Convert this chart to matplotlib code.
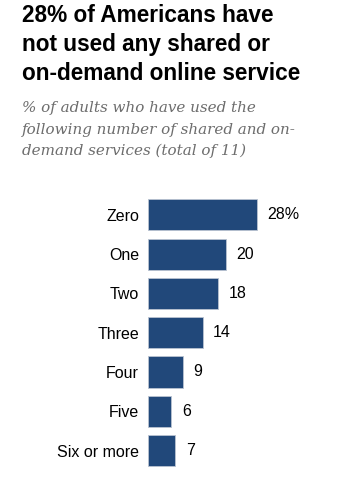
import matplotlib
matplotlib.use("Agg")
import matplotlib.pyplot as plt

categories = ["Zero", "One", "Two", "Three", "Four", "Five", "Six or more"]
values = [28, 20, 18, 14, 9, 6, 7]
value_labels = ["28%", "20", "18", "14", "9", "6", "7"]

title_lines = ["28% of Americans have",
               "not used any shared or",
               "on-demand online service"]
subtitle_lines = ["% of adults who have used the",
                  "following number of shared and on-",
                  "demand services (total of 11)"]

W, H = 349, 494
fig = plt.figure(figsize=(W / 100, H / 100), dpi=100)
fig.patch.set_facecolor("white")

for i, line in enumerate(title_lines):
    fig.text(22 / W, 1 - (21.5 + 29.3 * i) / H, line, ha="left", va="baseline",
             fontsize=16.3, fontweight="bold", family="Liberation Sans",
             color="#000000")
for i, line in enumerate(subtitle_lines):
    fig.text(22 / W, 1 - (112 + 21.5 * i) / H, line, ha="left", va="baseline",
             fontsize=10.9, style="italic", family="DejaVu Serif", color="#6d6d6d")

ax_left = 148 / W
ax_bottom = 1 - 470.2 / H
ax_h = 275 / H
xmax = 50
ax_w = (xmax * 109 / 28) / W
ax = fig.add_axes([ax_left, ax_bottom, ax_w, ax_h])
ypos = list(range(len(categories)))
ax.barh(ypos, values, height=0.79, color="#21487a", edgecolor="#b9c3d1", linewidth=0.6)
ax.set_ylim(len(categories) - 0.5, -0.5)
ax.set_xlim(0, xmax)
ax.set_yticks(ypos)
ax.set_yticklabels(categories, family="Liberation Sans", fontsize=11.5, color="#000000")
ax.tick_params(axis="y", length=0, pad=6.5)
ax.set_xticks([])
for s in ax.spines.values():
    s.set_visible(False)
for y, v, lab in zip(ypos, values, value_labels):
    ax.annotate(lab, (v, y), xytext=(7.5, 0), textcoords="offset points",
                ha="left", va="center", fontsize=11.5, family="Liberation Sans",
                color="#000000")

fig.savefig("out.png", dpi=100)
